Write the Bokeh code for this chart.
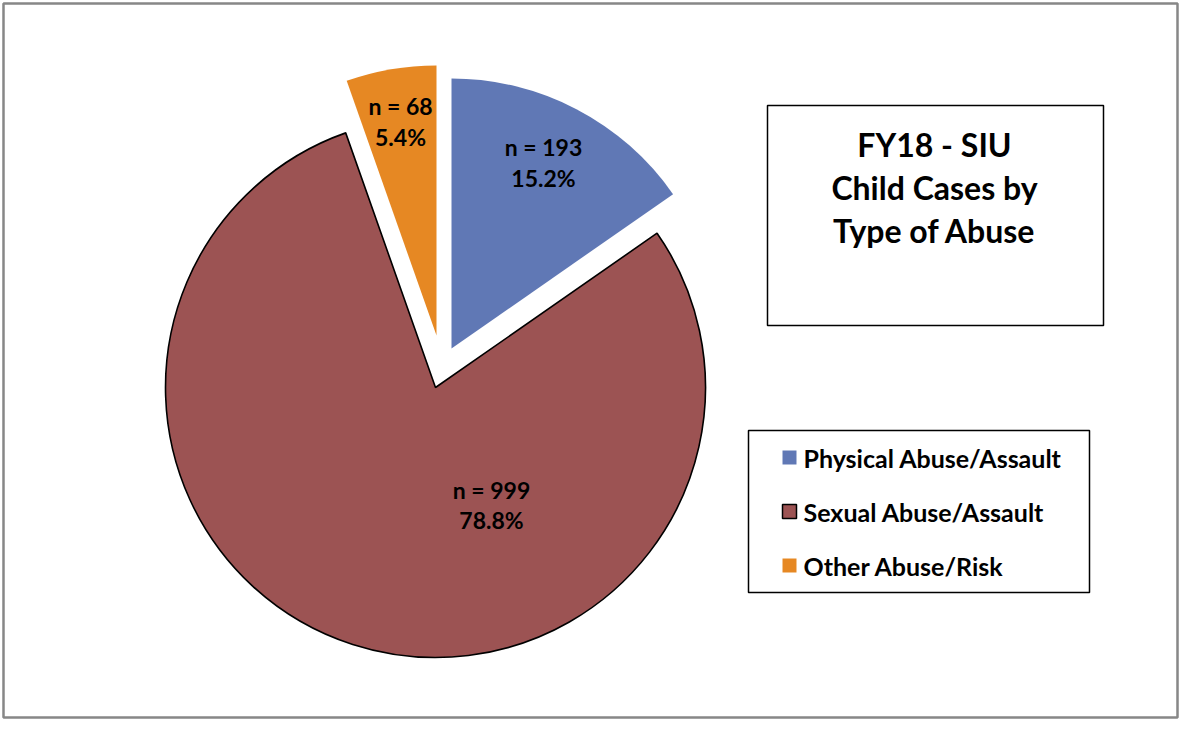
import numpy as np
from bokeh.plotting import figure
from bokeh.models import Range1d
from bokeh.core.properties import value
from bokeh.embed import file_html
from bokeh.resources import INLINE

# ---- data ----
categories = ["Physical Abuse/Assault", "Sexual Abuse/Assault", "Other Abuse/Risk"]
counts = [193, 999, 68]
pct_labels = ["15.2%", "78.8%", "5.4%"]
colors = ["#6078B5", "#9C5353", "#E68823"]
title_lines = ["FY18 - SIU", "Child Cases by", "Type of Abuse"]

FONT = "Lato"

W, H = 1179, 719
p = figure(width=W, height=H, output_backend="svg", toolbar_location=None,
           x_range=Range1d(0, W), y_range=Range1d(-H, 0),
           min_border=0, min_border_left=0, min_border_right=0,
           min_border_top=0, min_border_bottom=0)
p.axis.visible = False
p.grid.visible = False
p.outline_line_color = None
p.background_fill_color = "white"

# outer frame
p.rect(x=[(3 + W - 2) / 2], y=[-(3 + H - 2) / 2], width=W - 5, height=H - 5,
       fill_color=None, line_color="#878787", line_width=2.5)

# pie geometry (pixel coords; y data = -pixel y)
R = 270
centers = [(451, 348), (435, 387), (436, 335)]  # exploded slice apexes
total = float(sum(counts))
cum = np.concatenate([[0.0], np.cumsum(counts) / total])
for i in range(len(counts)):
    a, b = cum[i], cum[i + 1]
    start = np.pi / 2 - 2 * np.pi * b
    end = np.pi / 2 - 2 * np.pi * a
    cx, cy = centers[i]
    lc = "black" if i == 1 else None
    p.wedge(x=[cx], y=[-cy], radius=R, start_angle=start, end_angle=end,
            direction="anticlock", fill_color=colors[i], line_color=lc,
            line_width=1.6)

# slice labels
label_pos = [(543, 146, 177), (491, 489, 519), (400, 105, 136)]
for i in range(len(counts)):
    x, y1, y2 = label_pos[i]
    p.text(x=[x, x], y=[-y1, -y2], text=["n = %d" % counts[i], pct_labels[i]],
           text_font=value(FONT), text_font_style="bold", text_font_size="23px",
           text_align="center", text_baseline="middle", text_color="black")

# title box
p.rect(x=[(767 + 1103) / 2], y=[-(105 + 325) / 2], width=1103 - 767, height=325 - 105,
       fill_color="white", line_color="black", line_width=1.5)
p.text(x=[934] * 3, y=[-144, -187, -230], text=title_lines,
       text_font=value(FONT), text_font_style="bold", text_font_size="32px",
       text_align="center", text_baseline="middle", text_color="black")

# legend box
p.rect(x=[(748 + 1089) / 2], y=[-(430 + 592) / 2], width=1089 - 748, height=592 - 430,
       fill_color="white", line_color="black", line_width=1.5)
ly = [457, 511, 565]
for i, cat in enumerate(categories):
    p.rect(x=[789], y=[-ly[i]], width=14, height=14, fill_color=colors[i],
           line_color="black" if i == 1 else None, line_width=1.5)
    p.text(x=[803], y=[-ly[i]], text=[cat], text_font=value(FONT),
           text_font_style="bold", text_font_size="25px",
           text_align="left", text_baseline="middle", text_color="black")

open("out.html", "w").write(file_html(p, INLINE))
